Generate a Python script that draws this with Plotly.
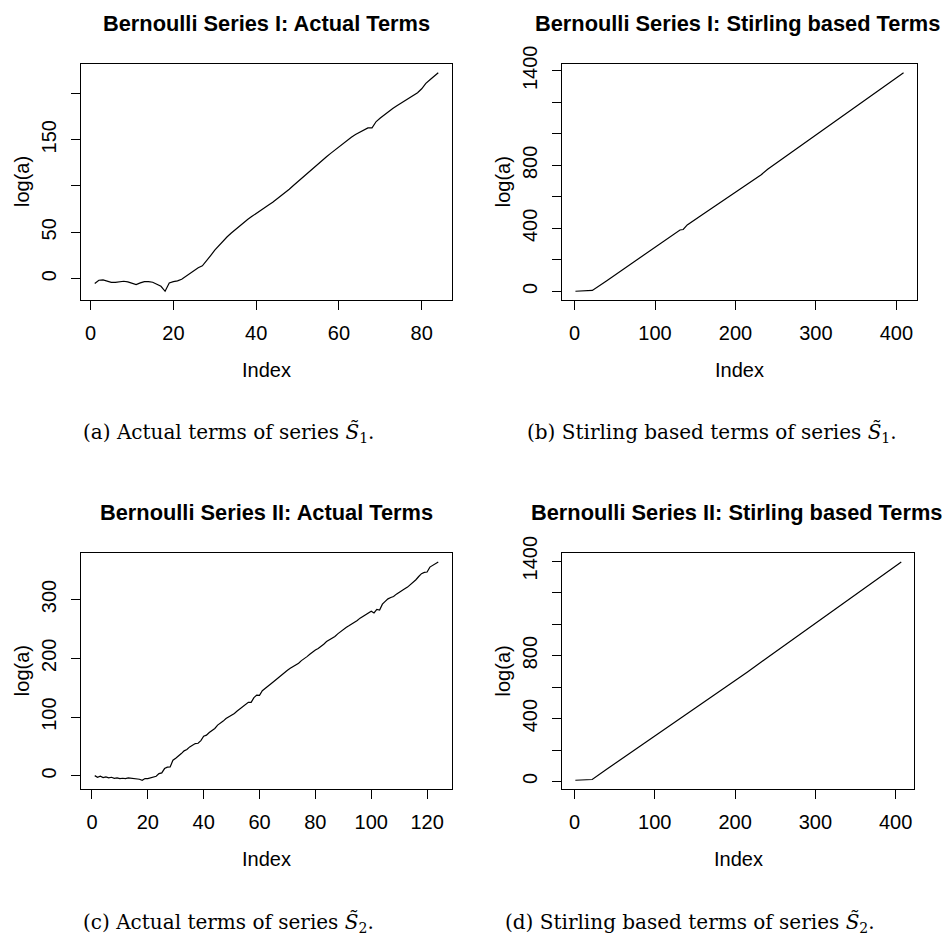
import plotly.graph_objects as go

# ---------------- data ----------------
# (a) Bernoulli Series I: actual terms, index 1..84
a_y = [-5.4, -1.8, -1.4, -2.5, -4.0, -4.0, -3.3, -2.9, -3.6, -5.0,
       -6.5, -4.7, -3.3, -3.3, -4.0, -6.1, -8.3, -13.7, -4.7, -3.3,
       -2.5, -0.7, 2.5, 5.8, 9.0, 11.6, 13.7, 18.8, 24.9, 30.7,
       35.8, 40.5, 45.2, 49.2, 53.1, 56.8, 60.4, 64.0, 67.2, 70.5,
       73.4, 76.6, 79.5, 82.4, 85.7, 88.9, 92.9, 96.5, 100.5, 104.5,
       108.5, 112.4, 116.4, 120.4, 124.0, 127.6, 131.6, 135.2, 138.8, 142.4,
       146.0, 149.3, 152.6, 155.5, 158.0, 160.9, 162.7, 162.7, 169.6, 173.5,
       177.2, 180.4, 183.7, 186.6, 189.4, 192.0, 195.2, 197.8, 200.7, 205.0,
       210.8, 214.8, 218.7, 222.3]
a_x = list(range(1, len(a_y) + 1))

# (b) Bernoulli Series I: Stirling based terms
b_x = [1, 10, 22, 40, 60, 80, 100, 120, 131, 135, 140, 160, 180, 200, 220, 228,
       232, 240, 260, 280, 300, 320, 340, 360, 380, 400, 409]
b_y = [1, 3, 6, 68, 139, 210, 281, 352, 390, 393, 422, 492, 562, 632, 703, 731,
       741, 775, 848, 921, 994, 1066, 1139, 1211, 1284, 1356, 1388]

# (c) Bernoulli Series II: actual terms, index 1..124
c_y = [0.5, -2.3, -0.6, -2.8, -1.7, -3.4, -2.3, -4.0, -3.4, -4.5,
       -4.0, -4.5, -3.4, -4.0, -4.0, -5.1, -5.7, -7.4, -4.5, -4.5,
       -3.4, -1.7, -0.6, 4.0, 5.1, 12.5, 14.8, 15.3, 26.7, 30.1,
       33.5, 38.0, 42.6, 44.9, 49.4, 53.0, 55.0, 55.5, 60.0, 67.6,
       69.3, 73.9, 76.7, 80.7, 86.4, 89.2, 93.2, 97.7, 100.6, 102.3,
       106.3, 110.2, 114.2, 117.6, 122.2, 125.0, 125.0, 133.0, 137.5, 137.0,
       144.9, 148.3, 152.3, 156.3, 160.2, 164.2, 168.8, 172.7, 176.1, 179.5,
       183.0, 185.8, 188.6, 191.5, 196.0, 198.9, 202.8, 206.8, 210.8, 214.2,
       216.5, 219.9, 223.9, 228.4, 231.2, 233.0, 237.0, 241.5, 245.5, 248.3,
       252.3, 255.1, 258.0, 260.8, 264.2, 268.2, 271.0, 273.9, 276.7, 280.0,
       277.0, 283.0, 282.0, 292.0, 296.6, 301.0, 303.4, 305.0, 309.0, 312.5,
       315.3, 318.0, 321.0, 325.0, 329.5, 333.5, 339.0, 343.8, 346.0, 346.6,
       355.0, 357.4, 360.2, 363.6]
c_x = list(range(1, len(c_y) + 1))

# (d) Bernoulli Series II: Stirling based terms
d_x = [1, 10, 22, 40, 60, 80, 100, 120, 140, 160, 180, 200, 215, 240, 260,
       280, 300, 320, 340, 360, 380, 400, 407]
d_y = [8, 10, 13, 78, 148, 218, 288, 358, 429, 499, 569, 640, 695, 787, 860,
       933, 1006, 1079, 1152, 1224, 1297, 1370, 1395]

titles = ["Bernoulli Series I: Actual Terms",
          "Bernoulli Series I: Stirling based Terms",
          "Bernoulli Series II: Actual Terms",
          "Bernoulli Series II: Stirling based Terms"]
captions = ["(a) Actual terms of series <i>S̃</i><sub>1</sub>.",
            "(b) Stirling based terms of series <i>S̃</i><sub>1</sub>.",
            "(c) Actual terms of series <i>S̃</i><sub>2</sub>.",
            "(d) Stirling based terms of series <i>S̃</i><sub>2</sub>."]

# labelled ticks and unlabelled ticks (R drops labels that would overlap)
a_xticks = [0, 20, 40, 60, 80]
a_yticks = [0, 50, 150]
a_yminor = [100, 200]
b_xticks = [0, 100, 200, 300, 400]
b_yticks = [0, 400, 800, 1400]
b_yminor = [200, 600, 1000, 1200]
c_xticks = [0, 20, 40, 60, 80, 100, 120]
c_yticks = [0, 100, 200, 300]
c_yminor = []
d_xticks = b_xticks
d_yticks = b_yticks
d_yminor = b_yminor

# ---------------- layout helpers ----------------
W, H = 943, 938
def fx(px):
    return px / W
def fy(py):
    return 1 - py / H

SANS = "Liberation Sans, Arial, Helvetica, sans-serif"
SERIF = "DejaVu Serif, Liberation Serif, serif"

boxes = [  # left, right, top, bottom (pixels)
    (81, 452, 64, 300),
    (562.3, 916.7, 64, 300),
    (81, 452, 553.3, 789),
    (562.3, 914.3, 553.3, 789),
]

def rrange(vals):
    lo, hi = min(vals), max(vals)
    ext = 0.04 * (hi - lo)
    return [lo - ext, hi + ext]

panels = [
    (a_x, a_y, a_xticks, a_yticks, a_yminor),
    (b_x, b_y, b_xticks, b_yticks, b_yminor),
    (c_x, c_y, c_xticks, c_yticks, c_yminor),
    (d_x, d_y, d_xticks, d_yticks, d_yminor),
]

fig = go.Figure()
layout = dict(width=W, height=H, autosize=False,
              margin=dict(l=0, r=0, t=0, b=0, pad=0, autoexpand=False),
              paper_bgcolor="white", plot_bgcolor="white", showlegend=False)
annotations = []

title_x = [266.5, 737, 266.5, 736]
caption_x = [228.5, 711.5, 228.5, 690]
caption_y = [433, 433, 923, 923]

for k, (xs, ys, xt, yt, ym) in enumerate(panels):
    n = "" if k == 0 else str(k + 1)
    fig.add_trace(go.Scatter(x=xs, y=ys, mode="lines",
                             line=dict(color="black", width=1.2),
                             xaxis="x" + n, yaxis="y" + n, hoverinfo="skip"))
    l, r, t, b = boxes[k]
    common = dict(showline=True, mirror=True, linecolor="black", linewidth=1,
                  ticks="outside", ticklen=9, tickwidth=1, tickcolor="black",
                  showgrid=False, zeroline=False, automargin=False,
                  tickfont=dict(family=SANS, size=20, color="black"))
    layout["xaxis" + n] = dict(domain=[fx(l), fx(r)], anchor="y" + n,
                               range=rrange(xs), tickmode="array", tickvals=xt,
                               ticklabelstandoff=6, **common)
    yax = dict(domain=[fy(b), fy(t)], anchor="x" + n,
               range=rrange(ys), tickmode="array", tickvals=yt,
               tickangle=-90, ticklabelstandoff=7, **common)
    if ym:
        yax["minor"] = dict(tickmode="array", tickvals=ym, ticks="outside",
                            ticklen=9, tickwidth=1, tickcolor="black",
                            showgrid=False)
    layout["yaxis" + n] = yax
    cx = (l + r) / 2
    annotations.append(dict(text="<b>" + titles[k] + "</b>", x=fx(title_x[k]),
                            y=fy(t - 41),
                            xref="paper", yref="paper", showarrow=False,
                            xanchor="center", yanchor="middle",
                            font=dict(family=SANS, size=21.8, color="black")))
    annotations.append(dict(text="Index", x=fx(cx), y=fy(b + 70),
                            xref="paper", yref="paper", showarrow=False,
                            xanchor="center", yanchor="middle",
                            font=dict(family=SANS, size=20, color="black")))
    annotations.append(dict(text="log(a)", x=fx(l - 59), y=fy((t + b) / 2),
                            xref="paper", yref="paper", showarrow=False,
                            textangle=-90, xanchor="center", yanchor="middle",
                            font=dict(family=SANS, size=20, color="black")))
    annotations.append(dict(text=captions[k], x=fx(caption_x[k]), y=fy(caption_y[k]),
                            xref="paper", yref="paper", showarrow=False,
                            xanchor="center", yanchor="middle",
                            font=dict(family=SERIF, size=20, color="black")))

layout["annotations"] = annotations
fig.update_layout(**layout)
fig.write_html("out.html")
